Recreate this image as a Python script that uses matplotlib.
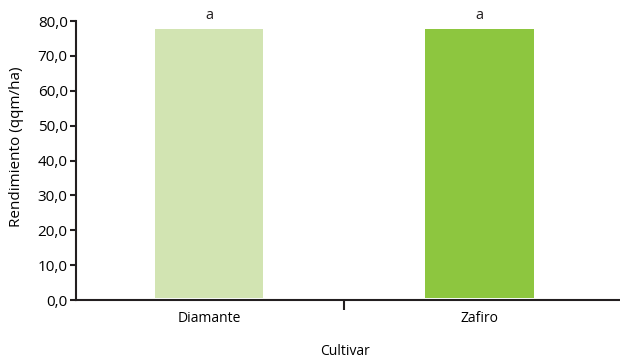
import matplotlib.pyplot as plt
import numpy as np

cultivars = ['Diamante', 'Zafiro']
rendimiento = [77.0, 77.0]
letters = ['a', 'a']
colors = ['#d2e4b2', '#8dc63f']
yticks = [0, 10, 20, 30, 40, 50, 60, 70, 80]

plt.rcParams['font.family'] = ['Open Sans', 'DejaVu Sans']

fig = plt.figure(figsize=(6.2, 3.59), dpi=100)
ax = fig.add_axes([0.1226, 0.164, 0.8774, 0.7775])

x = np.arange(len(cultivars))
ax.bar(x, rendimiento, width=0.4, color=colors, bottom=0.6)
for xi, v, l in zip(x, rendimiento, letters):
    ax.text(xi, v + 2.4, l, ha='center', va='bottom', fontsize=10.5, color='#231f20')

ax.set_xlim(-0.493, 1.52)
ax.set_ylim(0, 80)
ax.set_yticks(yticks)
ax.set_yticklabels([f'{v:.1f}'.replace('.', ',') for v in yticks], fontsize=11)
ax.set_xticks(x)
ax.set_xticklabels(cultivars, fontsize=10)
ax.tick_params(axis='x', length=0, pad=8)
ax.set_xticks([0.5], minor=True)
ax.tick_params(axis='x', which='minor', length=7, width=1.5, direction='out', color='#231f20')
ax.tick_params(axis='y', length=4, width=1.5, direction='out', color='#231f20', pad=2)

for s in ['top', 'right']:
    ax.spines[s].set_visible(False)
for s in ['left', 'bottom']:
    ax.spines[s].set_linewidth(1.5)
    ax.spines[s].set_color('#231f20')

ax.set_ylabel('Rendimiento (qqm/ha)', fontsize=11)
ax.yaxis.set_label_coords(-0.096, 0.548)
ax.set_xlabel('Cultivar', fontsize=10)
ax.xaxis.set_label_coords(0.495, -0.158)

fig.savefig('out.png', dpi=100)
